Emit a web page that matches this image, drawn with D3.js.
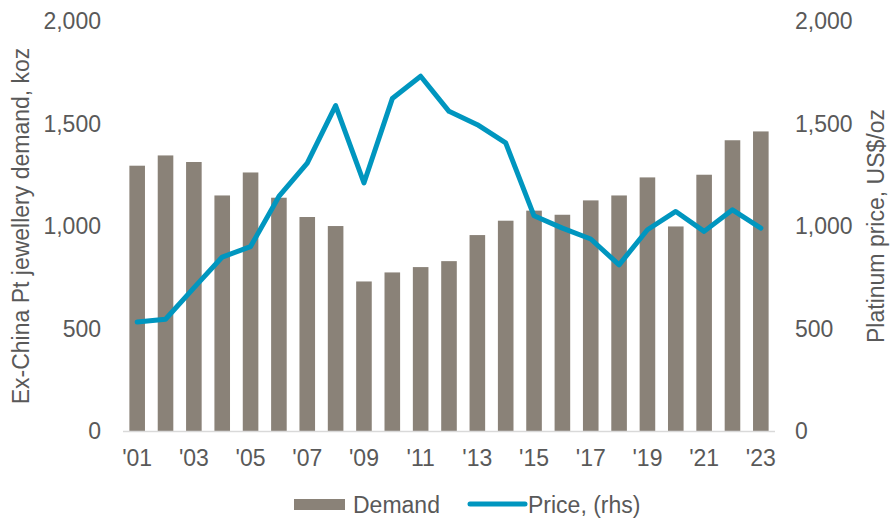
<!DOCTYPE html>
<html>
<head>
<meta charset="utf-8">
<script src="https://cdn.jsdelivr.net/npm/d3@7"></script>
<style>
  body { margin: 0; background: #fff; }
  svg text { font-family: "Liberation Sans", Arial, sans-serif; fill: #595959; }
</style>
</head>
<body>
<svg id="chart" width="890" height="519"></svg>
<script>
var years = ["2001","2002","2003","2004","2005","2006","2007","2008","2009","2010","2011","2012",
  "2013","2014","2015","2016","2017","2018","2019","2020","2021","2022","2023"];
var demand = [1295, 1345, 1313, 1150, 1262, 1139, 1045, 1001, 731, 775, 801, 830,
  957, 1027, 1076, 1056, 1126, 1150, 1238, 999, 1251, 1419, 1462];
var price = [534, 547, 700, 850, 901, 1145, 1308, 1588, 1211, 1622, 1731, 1560,
  1495, 1406, 1051, 991, 938, 812, 983, 1072, 975, 1080, 991];
var yTicks = [0, 500, 1000, 1500, 2000];

var margin = {top: 21, right: 115, bottom: 87.5, left: 123};
var width = 890, height = 519;
var fs = 23;
var svg = d3.select("#chart");

var x = d3.scaleBand()
  .domain(years)
  .range([margin.left, width - margin.right])
  .paddingInner(0.45)
  .paddingOuter(0.225);

var y = d3.scaleLinear().domain([0, 2000]).range([height - margin.bottom, margin.top]);
var y2 = d3.scaleLinear().domain([0, 2000]).range([height - margin.bottom, margin.top]);

var fmt = d3.format(",");

// bars
svg.append("g")
  .attr("fill", "#8a8278")
  .selectAll("rect").data(years).enter().append("rect")
    .attr("x", d => x(d))
    .attr("y", (d, i) => y(demand[i]))
    .attr("width", x.bandwidth())
    .attr("height", (d, i) => y(0) - y(demand[i]));

// baseline
svg.append("line")
  .attr("x1", margin.left).attr("x2", width - margin.right)
  .attr("y1", y(0)).attr("y2", y(0))
  .attr("stroke", "#d9d9d9").attr("stroke-width", 1.5);

// price line
var line = d3.line()
  .x((d, i) => x(years[i]) + x.bandwidth() / 2)
  .y(d => y2(d));

svg.append("path")
  .datum(price)
  .attr("fill", "none")
  .attr("stroke", "#0096bf")
  .attr("stroke-width", 5)
  .attr("stroke-linejoin", "round")
  .attr("stroke-linecap", "round")
  .attr("d", line);

// left axis
var gl = svg.append("g")
  .attr("transform", "translate(" + (margin.left - 22) + ",0)")
  .call(d3.axisLeft(y).tickValues(yTicks).tickFormat(fmt).tickSize(0).tickPadding(0));
gl.select(".domain").remove();
gl.selectAll("text").attr("font-size", fs).attr("fill", "#595959");

// right axis
var gr = svg.append("g")
  .attr("transform", "translate(" + (width - margin.right + 20) + ",0)")
  .call(d3.axisRight(y2).tickValues(yTicks).tickFormat(fmt).tickSize(0).tickPadding(0));
gr.select(".domain").remove();
gr.selectAll("text").attr("font-size", fs).attr("fill", "#595959");

// x axis
var gx = svg.append("g")
  .attr("transform", "translate(0," + y(0) + ")")
  .call(d3.axisBottom(x)
    .tickValues(years.filter((d, i) => i % 2 === 0))
    .tickFormat(d => "'" + d.slice(2))
    .tickSize(0).tickPadding(18));
gx.select(".domain").remove();
gx.selectAll("text").attr("font-size", fs).attr("fill", "#595959");

// axis titles
svg.append("text")
  .attr("transform", "translate(29,226) rotate(-90)")
  .attr("text-anchor", "middle")
  .attr("font-size", fs)
  .text("Ex-China Pt jewellery demand, koz");

svg.append("text")
  .attr("transform", "translate(884,226) rotate(-90)")
  .attr("text-anchor", "middle")
  .attr("font-size", fs)
  .text("Platinum price, US$/oz");

// legend
var lg = svg.append("g");
lg.append("rect")
  .attr("x", 294).attr("y", 499).attr("width", 51).attr("height", 11)
  .attr("fill", "#8a8278");
lg.append("text")
  .attr("x", 353).attr("y", 512.5).attr("font-size", fs)
  .text("Demand");
lg.append("line")
  .attr("x1", 470).attr("x2", 525).attr("y1", 504).attr("y2", 504)
  .attr("stroke", "#0096bf").attr("stroke-width", 5).attr("stroke-linecap", "round");
lg.append("text")
  .attr("x", 528).attr("y", 512.5).attr("font-size", fs)
  .text("Price, (rhs)");
</script>
</body>
</html>
